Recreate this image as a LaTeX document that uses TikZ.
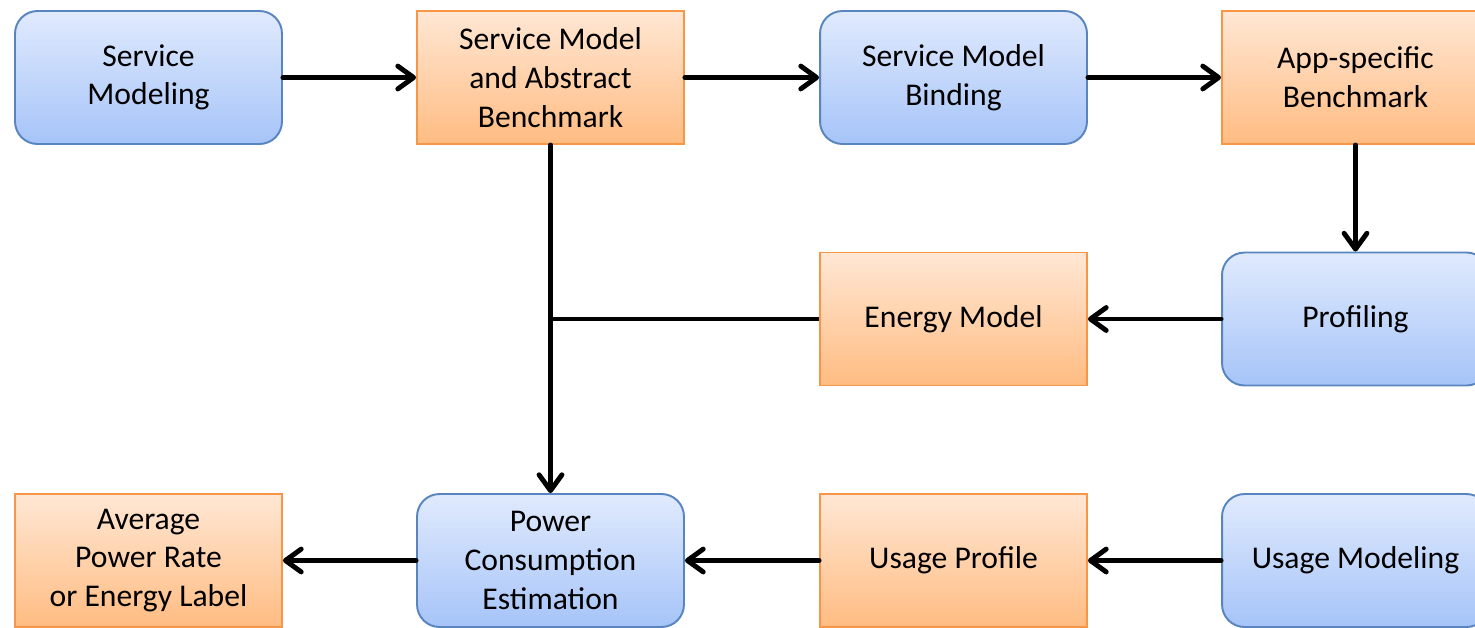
\documentclass[tikz,border=0pt]{standalone}
\usepackage{fontspec}
\setmainfont{Carlito}
\usetikzlibrary{arrows.meta}

\definecolor{blueline}{RGB}{88,132,192}
\definecolor{bluetop}{RGB}{224,234,253}
\definecolor{bluebot}{RGB}{166,196,248}
\definecolor{orangeline}{RGB}{247,150,70}
\definecolor{orangetop}{RGB}{255,231,212}
\definecolor{orangebot}{RGB}{255,188,130}

\tikzset{
  box/.style={minimum width=5.34cm, minimum height=2.66cm, align=center,
    font=\fontsize{18}{22}\selectfont, line width=1.1pt},
  activity/.style={box, draw=blueline, rounded corners=0.45cm,
    top color=bluetop, bottom color=bluebot},
  artifact/.style={box, draw=orangeline,
    top color=orangetop, bottom color=orangebot},
  flow/.style={line width=2.8pt, line cap=round,
    -{Straight Barb[length=9pt, width=13pt, round]}},
  link/.style={line width=2.8pt},
}

\begin{document}
\begin{tikzpicture}[x=0.02cm, y=-0.02cm]
  \clip (0,0) rectangle (1475,627);

  % top row
  \node[activity] (svcmod)  at (148.5,77.5)  {Service\\Modeling};
  \node[artifact] (abstract) at (550.5,77.5) {Service Model\\and Abstract\\Benchmark};
  \node[activity] (binding) at (953.5,77.5)  {Service Model\\Binding};
  \node[artifact] (appbench) at (1355.5,77.5) {App-specific\\Benchmark};

  % middle row
  \node[artifact] (energy)  at (953.5,319)   {Energy Model};
  \node[activity] (profile) at (1355.5,319)  {Profiling};

  % bottom row
  \node[artifact] (label)   at (148.5,560.5) {Average\\Power Rate\\or Energy Label};
  \node[activity] (estim)   at (550.5,560.5) {Power\\Consumption\\Estimation};
  \node[artifact] (usage)   at (953.5,560.5) {Usage Profile};
  \node[activity] (usemod)  at (1355.5,560.5) {Usage Modeling};

  \coordinate (join) at (abstract.south |- energy.west);

  \draw[flow] (svcmod) -- (abstract);
  \draw[flow] (abstract) -- (binding);
  \draw[flow] (binding) -- (appbench);
  \draw[flow] (appbench) -- (profile);
  \draw[flow] (profile) -- (energy);
  \draw[link] (energy.west) -- (join);
  \draw[flow] (abstract) -- (estim);
  \draw[flow] (usemod) -- (usage);
  \draw[flow] (usage) -- (estim);
  \draw[flow] (estim) -- (label);
\end{tikzpicture}
\end{document}
